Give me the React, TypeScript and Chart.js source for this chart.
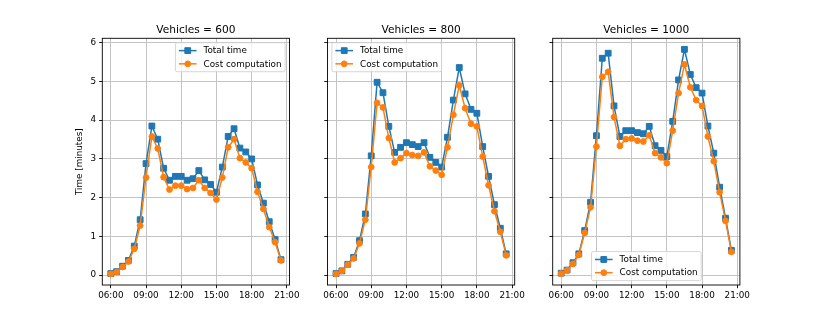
import React, { useEffect, useRef } from 'react';
import { Chart, registerables } from 'chart.js';

Chart.register(...registerables);

// ---------------- data ----------------
const times = [
  '06:00', '06:30', '07:00', '07:30', '08:00', '08:30', '09:00', '09:30', '10:00', '10:30',
  '11:00', '11:30', '12:00', '12:30', '13:00', '13:30', '14:00', '14:30', '15:00', '15:30',
  '16:00', '16:30', '17:00', '17:30', '18:00', '18:30', '19:00', '19:30', '20:00', '20:30',
];
const vehicleCounts = [600, 800, 1000];
const seriesNames = ['Total time', 'Cost computation'];

const totalTime600 = [0.04, 0.09, 0.23, 0.38, 0.75, 1.43, 2.88, 3.85, 3.51, 2.76, 2.45, 2.55, 2.55, 2.45, 2.49, 2.70, 2.46, 2.34, 2.14, 2.79, 3.58, 3.78, 3.28, 3.18, 3.00, 2.33, 1.86, 1.38, 0.92, 0.40];
const costComputation600 = [0.03, 0.08, 0.21, 0.35, 0.68, 1.28, 2.52, 3.58, 3.27, 2.53, 2.21, 2.31, 2.31, 2.22, 2.25, 2.45, 2.25, 2.12, 1.95, 2.52, 3.30, 3.51, 3.02, 2.91, 2.76, 2.15, 1.71, 1.24, 0.85, 0.38];
const totalTime800 = [0.04, 0.11, 0.28, 0.46, 0.89, 1.58, 3.08, 4.98, 4.71, 3.84, 3.17, 3.30, 3.42, 3.37, 3.32, 3.42, 3.04, 2.91, 2.79, 3.56, 4.52, 5.36, 4.68, 4.28, 4.18, 3.32, 2.55, 1.82, 1.21, 0.55];
const costComputation800 = [0.03, 0.11, 0.27, 0.43, 0.82, 1.43, 2.79, 4.45, 4.33, 3.54, 2.91, 3.02, 3.15, 3.10, 3.08, 3.17, 2.81, 2.70, 2.59, 3.30, 4.14, 4.90, 4.31, 3.91, 3.84, 3.06, 2.32, 1.65, 1.12, 0.51];
const totalTime1000 = [0.05, 0.13, 0.32, 0.55, 1.15, 1.88, 3.60, 5.60, 5.73, 4.37, 3.58, 3.73, 3.73, 3.68, 3.65, 3.84, 3.34, 3.22, 3.06, 3.97, 5.04, 5.83, 5.18, 4.84, 4.70, 3.85, 3.15, 2.27, 1.47, 0.64];
const costComputation1000 = [0.04, 0.12, 0.29, 0.52, 1.09, 1.75, 3.32, 5.12, 5.25, 4.08, 3.34, 3.51, 3.53, 3.47, 3.45, 3.61, 3.15, 3.04, 2.89, 3.73, 4.70, 5.44, 4.85, 4.52, 4.37, 3.58, 2.94, 2.14, 1.40, 0.60];

const yTicks = [0, 1, 2, 3, 4, 5, 6];
const xTickLabels = ['06:00', '09:00', '12:00', '15:00', '18:00', '21:00'];
const yAxisLabel = 'Time [minutes]';

// ---------------- layout / style ----------------
const W = 822;
const H = 321;
const PANEL_LEFTS = [102.3, 327.5, 552.7];
const PANEL_W = 187.2;
const AREA_TOP = 38.3;
const AREA_BOTTOM = 285;
const Y_AXIS_W = 40;
const X_AXIS_H = H - AREA_BOTTOM;
const X_MIN = 5.275;
const X_MAX = 21.225;
const Y_MIN = -0.255;
const Y_MAX = 6.115;
const FONT = 'DejaVu Sans';
const FS = 8.8;
const BLUE = '#1f77b4';
const ORANGE = '#ff7f0e';
const LINE_W = 1.5;

const toHours = (t: string) => {
  const [h, m] = t.split(':').map(Number);
  return h + m / 60;
};

const panels = [
  { vehicles: vehicleCounts[0], total: totalTime600, cost: costComputation600, legend: 'upper right' },
  { vehicles: vehicleCounts[1], total: totalTime800, cost: costComputation800, legend: 'upper left' },
  { vehicles: vehicleCounts[2], total: totalTime1000, cost: costComputation1000, legend: 'lower center' },
];

function drawMarker(ctx: CanvasRenderingContext2D, kind: string, x: number, y: number, color: string) {
  ctx.save();
  ctx.fillStyle = color;
  ctx.strokeStyle = color;
  ctx.lineWidth = 1;
  ctx.beginPath();
  if (kind === 'rect') {
    const s = 2.9;
    ctx.rect(x - s, y - s, 2 * s, 2 * s);
  } else {
    ctx.arc(x, y, 2.9, 0, Math.PI * 2);
  }
  ctx.fill();
  ctx.stroke();
  ctx.restore();
}

function makeDecorPlugin(panelIndex: number) {
  const p = panels[panelIndex];
  return {
    id: 'decor' + panelIndex,
    afterDatasetsDraw(chart: any) {
      const { ctx, chartArea } = chart;
      const { left, right, top, bottom } = chartArea;
      ctx.save();
      // frame
      ctx.strokeStyle = '#000';
      ctx.lineWidth = 0.9;
      ctx.strokeRect(left, top, right - left, bottom - top);

      // title
      ctx.fillStyle = '#000';
      ctx.font = `10.6px "${FONT}"`;
      ctx.textAlign = 'center';
      ctx.textBaseline = 'alphabetic';
      ctx.fillText(`Vehicles = ${p.vehicles}`, (left + right) / 2, top - 5.0);

      // legend
      ctx.font = `${FS}px "${FONT}"`;
      const pad = 0.4 * FS;
      const handleLen = 2 * FS;
      const handleTextPad = 0.8 * FS;
      const rowH = 8.8;
      const spacing = 0.5 * FS;
      const textW = Math.max(...seriesNames.map((s) => ctx.measureText(s).width));
      const boxW = pad * 2 + handleLen + handleTextPad + textW;
      const boxH = pad * 2 + rowH * 2 + spacing;
      const axPad = 0.5 * FS;
      let bx = left + axPad;
      let by = top + axPad;
      if (p.legend === 'upper right') bx = right - axPad - boxW;
      if (p.legend === 'lower center') {
        bx = (left + right) / 2 - boxW / 2;
        by = bottom - axPad - boxH;
      }
      const r = 0.2 * FS;
      ctx.beginPath();
      ctx.moveTo(bx + r, by);
      ctx.lineTo(bx + boxW - r, by);
      ctx.arcTo(bx + boxW, by, bx + boxW, by + r, r);
      ctx.lineTo(bx + boxW, by + boxH - r);
      ctx.arcTo(bx + boxW, by + boxH, bx + boxW - r, by + boxH, r);
      ctx.lineTo(bx + r, by + boxH);
      ctx.arcTo(bx, by + boxH, bx, by + boxH - r, r);
      ctx.lineTo(bx, by + r);
      ctx.arcTo(bx, by, bx + r, by, r);
      ctx.closePath();
      ctx.fillStyle = 'rgba(255,255,255,0.8)';
      ctx.fill();
      ctx.strokeStyle = 'rgba(204,204,204,0.8)';
      ctx.lineWidth = 1;
      ctx.stroke();

      const colors = [BLUE, ORANGE];
      const kinds = ['rect', 'circle'];
      seriesNames.forEach((name, i) => {
        const cy = by + pad + rowH / 2 + i * (rowH + spacing);
        const hx = bx + pad;
        ctx.strokeStyle = colors[i];
        ctx.lineWidth = LINE_W;
        ctx.beginPath();
        ctx.moveTo(hx, cy);
        ctx.lineTo(hx + handleLen, cy);
        ctx.stroke();
        drawMarker(ctx, kinds[i], hx + handleLen / 2, cy, colors[i]);
        ctx.fillStyle = '#000';
        ctx.textAlign = 'left';
        ctx.textBaseline = 'middle';
        ctx.fillText(name, hx + handleLen + handleTextPad, cy + 0.5);
      });
      ctx.restore();
    },
  };
}

function Panel({ index }: { index: number }) {
  const ref = useRef<HTMLCanvasElement>(null);
  useEffect(() => {
    if (!ref.current) return;
    const p = panels[index];
    const left = PANEL_LEFTS[index];
    const right = left + PANEL_W;
    const xs = times.map(toHours);
    const gridOpts = {
      color: '#c4c4c4',
      lineWidth: 1,
      drawTicks: true,
      tickLength: 3.2,
      tickColor: '#000',
      tickWidth: 0.9,
    };
    const chart = new Chart(ref.current, {
      type: 'line',
      data: {
        datasets: [
          {
            label: seriesNames[0],
            data: xs.map((x, i) => ({ x, y: p.total[i] })),
            borderColor: BLUE,
            backgroundColor: BLUE,
            pointBackgroundColor: BLUE,
            pointBorderColor: BLUE,
            pointStyle: 'rect',
            pointRadius: 4.1,
            pointBorderWidth: 1,
            borderWidth: LINE_W,
            tension: 0,
            order: 1,
          },
          {
            label: seriesNames[1],
            data: xs.map((x, i) => ({ x, y: p.cost[i] })),
            borderColor: ORANGE,
            backgroundColor: ORANGE,
            pointBackgroundColor: ORANGE,
            pointBorderColor: ORANGE,
            pointStyle: 'circle',
            pointRadius: 2.9,
            pointBorderWidth: 1,
            borderWidth: LINE_W,
            tension: 0,
            order: 0,
          },
        ],
      },
      options: {
        animation: false,
        responsive: false,
        devicePixelRatio: 1,
        events: [],
        layout: {
          padding: {
            left: left - Y_AXIS_W,
            right: W - right,
            top: AREA_TOP,
            bottom: 0,
          },
        },
        plugins: {
          legend: { display: false },
          title: { display: false },
          tooltip: { enabled: false },
        },
        scales: {
          x: {
            type: 'linear',
            bounds: 'data',
            min: X_MIN,
            max: X_MAX,
            afterBuildTicks: (s: any) => {
              s.ticks = xTickLabels.map((t) => ({ value: toHours(t) }));
            },
            afterFit: (s: any) => {
              s.height = X_AXIS_H;
            },
            ticks: {
              autoSkip: false,
              maxRotation: 0,
              padding: 2,
              color: '#000',
              font: { family: FONT, size: FS },
              callback: (_v: any, i: number) => xTickLabels[i],
            },
            grid: gridOpts,
            border: { display: false },
          },
          y: {
            type: 'linear',
            bounds: 'data',
            min: Y_MIN,
            max: Y_MAX,
            afterBuildTicks: (s: any) => {
              s.ticks = yTicks.map((v) => ({ value: v }));
            },
            afterFit: (s: any) => {
              s.width = Y_AXIS_W;
            },
            ticks: {
              autoSkip: false,
              padding: 3,
              color: '#000',
              font: { family: FONT, size: FS },
              callback: (_v: any, i: number) => (index === 0 ? String(yTicks[i]) : ''),
            },
            grid: gridOpts,
            border: { display: false },
            title: {
              display: index === 0,
              text: yAxisLabel,
              color: '#000',
              font: { family: FONT, size: FS },
              padding: { top: 12.5, bottom: 0 },
            },
          },
        },
      },
      plugins: [makeDecorPlugin(index)],
    } as any);
    return () => chart.destroy();
  }, [index]);
  return (
    <canvas
      ref={ref}
      width={W}
      height={H}
      style={{ position: 'absolute', left: 0, top: 0, width: W, height: H }}
    />
  );
}

export default function App() {
  return (
    <div style={{ position: 'absolute', left: 0, top: 0, width: W, height: H, background: '#fff' }}>
      {panels.map((_, i) => (
        <Panel key={i} index={i} />
      ))}
    </div>
  );
}
